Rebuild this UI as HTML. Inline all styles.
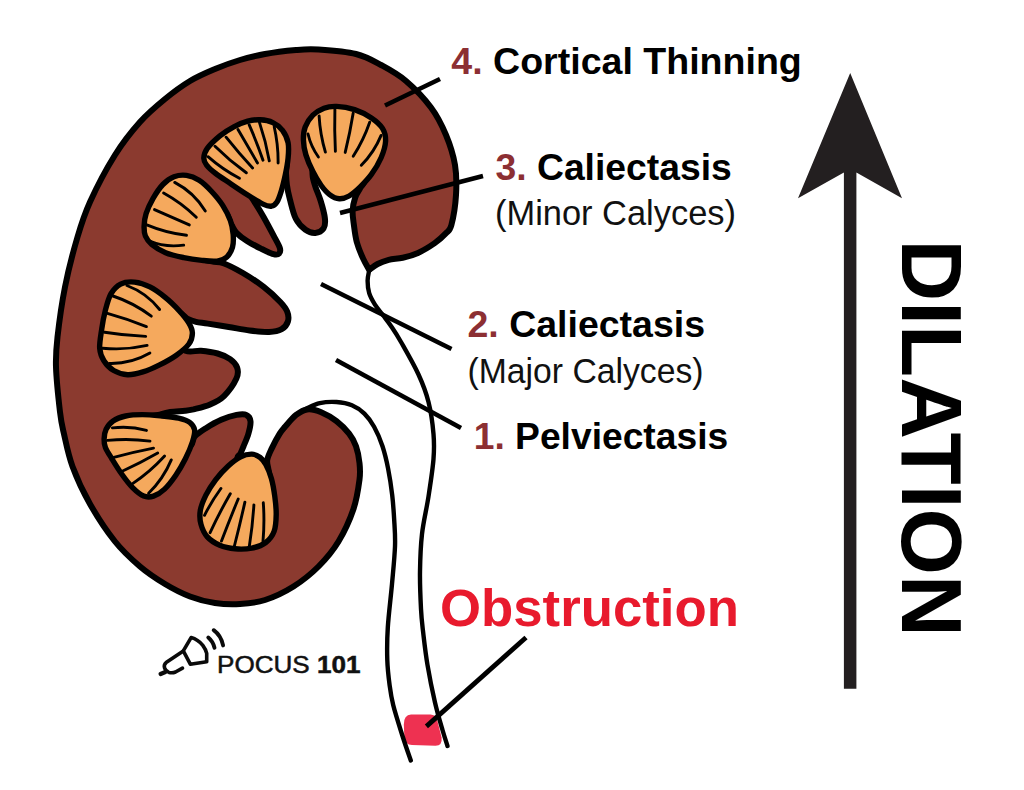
<!DOCTYPE html>
<html><head><meta charset="utf-8"><title>Hydronephrosis - Dilation</title>
<style>html,body{margin:0;padding:0;background:#fff}svg{display:block}</style></head>
<body>
<svg width="1024" height="790" viewBox="0 0 1024 790">
<rect width="1024" height="790" fill="#fff"/>
<path d="M369.2 269.8C370.6 268.8 374.4 265.7 377.6 264.0C380.9 262.3 384.5 260.9 388.7 259.8C392.9 258.8 397.8 258.8 402.7 257.7C407.6 256.6 412.7 255.3 418.0 252.9C423.3 250.5 430.1 246.3 434.7 243.1C439.3 239.8 443.0 236.4 445.8 233.4C448.6 230.4 449.7 231.4 451.4 225.0C453.1 218.6 455.4 205.0 456.0 195.0C456.6 185.0 456.7 175.0 455.0 165.0C453.3 155.0 450.0 144.6 446.0 135.0C442.0 125.4 437.7 116.5 431.0 107.5C424.3 98.5 414.3 88.1 406.0 81.0C397.7 73.9 389.3 69.5 381.0 65.0C372.7 60.5 366.4 56.6 356.0 54.0C345.6 51.4 328.5 50.2 318.5 49.5C308.5 48.8 304.9 49.2 296.0 50.0C287.1 50.8 274.3 52.3 265.0 54.0C255.7 55.7 248.3 57.5 240.0 60.0C231.7 62.5 223.3 65.5 215.0 69.0C206.7 72.5 198.3 76.0 190.0 81.0C181.7 86.0 173.3 92.2 165.0 99.0C156.7 105.8 148.3 112.7 140.0 122.0C131.7 131.3 123.3 141.7 115.0 155.0C106.7 168.3 96.2 188.3 90.0 202.0C83.8 215.7 81.7 222.8 77.5 237.0C73.3 251.2 68.3 270.3 65.0 287.0C61.7 303.7 59.0 323.7 57.5 337.0C56.0 350.3 55.6 354.5 56.0 367.0C56.4 379.5 58.7 400.8 60.0 412.0C61.3 423.2 61.9 424.9 64.0 434.0C66.1 443.1 68.2 454.8 72.5 466.5C76.8 478.2 82.9 491.5 90.0 504.0C97.1 516.5 106.7 531.1 115.0 541.5C123.3 551.9 131.7 559.4 140.0 566.5C148.3 573.6 156.7 579.0 165.0 584.0C173.3 589.0 181.7 593.3 190.0 596.5C198.3 599.7 206.7 601.8 215.0 603.0C223.3 604.2 231.7 604.5 240.0 604.0C248.3 603.5 256.1 602.9 265.0 600.0C273.9 597.1 284.6 592.1 293.5 586.5C302.4 580.9 311.0 574.0 318.5 566.5C326.0 559.0 332.7 551.1 338.5 541.5C344.3 531.9 350.0 519.3 353.5 509.0C357.0 498.7 358.5 487.4 359.5 479.7C360.5 472.0 360.1 468.6 359.5 463.0C358.9 457.4 357.7 451.2 356.0 446.3C354.3 441.4 352.4 437.9 349.1 433.7C345.9 429.5 341.1 424.8 336.5 421.2C331.9 417.6 326.1 414.2 321.2 412.2C316.3 410.2 311.5 408.9 307.3 409.4C303.1 409.8 299.8 412.0 296.1 414.9C292.4 417.8 287.7 423.7 285.0 426.8C282.3 429.9 282.0 430.0 279.7 433.7C277.4 437.4 273.5 444.7 271.4 449.1C269.3 453.5 267.7 456.6 267.2 460.2C266.7 463.8 268.2 466.9 268.6 470.5C269.0 474.1 270.9 478.8 269.5 482.0C268.1 485.2 261.6 488.7 260.0 490.0C256.3 485.3 241.2 468.1 238.0 462.0C234.8 455.9 239.8 455.8 240.7 453.2C241.6 450.6 242.2 449.6 243.5 446.3C244.8 443.1 247.2 437.9 248.4 433.7C249.6 429.5 250.8 424.3 250.5 421.2C250.2 418.1 248.6 415.9 246.3 414.9C244.0 413.8 240.7 414.1 236.5 414.9C232.3 415.7 226.3 417.6 221.2 419.8C216.1 422.0 210.3 425.4 205.9 428.2C201.5 431.0 197.4 433.5 194.7 436.5C192.0 439.5 193.6 445.4 189.5 446.0C185.4 446.6 173.2 441.0 170.0 440.0C166.3 436.5 149.7 423.2 148.0 419.0C146.3 414.8 156.3 415.8 160.0 414.6C163.7 413.4 166.0 412.6 170.2 412.0C174.4 411.4 181.1 411.2 185.0 410.8C188.9 410.4 189.2 410.4 193.4 409.4C197.6 408.3 205.0 406.7 210.1 404.5C215.2 402.3 219.6 400.4 224.0 396.1C228.4 391.8 234.2 383.4 236.4 378.6C238.6 373.8 238.2 370.6 237.1 367.4C236.0 364.1 233.3 361.4 230.1 359.1C226.8 356.8 222.5 354.9 217.6 353.5C212.7 352.1 206.2 351.2 200.9 350.7C195.6 350.2 190.8 353.1 185.6 350.7C180.4 348.2 172.6 338.4 170.0 336.0C171.4 332.3 175.6 316.9 178.5 314.0C181.4 311.1 184.4 317.5 187.3 318.8C190.2 320.1 192.6 321.0 196.0 321.8C199.4 322.6 202.5 322.7 207.9 323.6C213.3 324.5 221.8 325.9 228.7 327.0C235.6 328.1 242.9 329.7 249.6 330.5C256.3 331.3 263.8 332.1 269.1 331.9C274.5 331.7 278.6 330.8 281.7 329.1C284.8 327.4 287.0 324.4 287.9 321.5C288.8 318.6 288.5 314.9 287.2 311.7C285.9 308.4 284.2 306.1 280.3 302.0C276.4 297.9 269.9 291.7 263.7 286.9C257.5 282.1 249.6 276.9 242.9 273.0C236.2 269.1 228.6 265.1 223.4 263.2C218.2 261.3 215.9 262.5 212.0 261.4C208.1 260.3 201.2 260.7 200.0 256.5C198.8 252.3 204.2 239.4 205.0 236.0C208.2 232.2 219.7 215.5 224.0 213.5C228.3 211.5 229.0 221.0 231.1 224.2C233.2 227.4 233.8 230.0 236.5 232.8C239.2 235.6 242.9 238.4 247.0 241.0C251.1 243.6 256.6 246.4 261.0 248.6C265.4 250.8 270.5 253.4 273.5 254.2C276.5 255.0 278.1 254.6 279.1 253.5C280.2 252.4 280.7 250.9 279.8 247.9C278.9 244.9 276.2 240.5 273.5 235.4C270.8 230.3 266.7 222.6 263.7 217.3C260.7 212.0 257.4 206.6 255.4 203.4C253.5 200.2 252.6 198.9 252.0 198.0C254.7 194.2 265.3 178.8 268.0 175.0C270.9 172.5 282.5 160.3 285.5 160.0C288.5 159.7 285.8 168.8 286.0 173.0C286.2 177.2 286.3 180.7 286.9 185.0C287.5 189.3 288.3 193.4 289.8 199.0C291.3 204.6 293.2 213.6 295.8 218.7C298.4 223.8 302.2 227.4 305.5 229.8C308.8 232.2 312.3 233.1 315.3 232.9C318.3 232.7 322.0 230.8 323.6 228.4C325.2 226.0 325.4 223.0 324.9 218.4C324.4 213.8 322.3 206.2 320.7 201.0C319.1 195.8 316.8 191.0 315.5 187.0C314.2 183.0 313.3 180.3 312.8 177.0C312.3 173.7 312.4 168.7 312.3 167.0C314.4 165.5 322.9 159.5 325.0 158.0C329.2 159.2 345.8 163.8 350.0 165.0C352.5 167.2 363.4 174.0 365.0 178.0C366.6 182.0 361.4 185.6 359.8 188.8C358.2 192.1 356.4 193.8 355.2 197.5C354.0 201.2 352.8 206.2 352.6 210.8C352.4 215.4 353.2 219.8 353.9 225.0C354.6 230.2 355.2 236.1 356.7 241.7C358.2 247.3 360.9 253.7 363.0 258.4C365.1 263.1 368.2 267.9 369.2 269.8Z" fill="#8b3a2f" stroke="#000" stroke-width="6" stroke-linejoin="round"/>
<path d="M411 714.6L430.5 714.6Q435.6 714.8 437 719.5L441.6 737.5Q442.6 745.6 435.5 745.8L412 745.1Q405 744.7 404.4 737.6L403.8 724.4Q403.8 715.2 411 714.6Z" fill="#ee3151"/>
<path d="M336.5 106.4C331.4 106.2 327.9 106.7 324.0 108.2C320.1 109.7 316.0 112.1 312.9 115.2C309.8 118.3 306.8 122.9 305.2 127.0C303.6 131.1 303.3 134.9 303.4 139.6C303.5 144.2 304.3 149.6 305.9 154.9C307.5 160.2 310.3 166.5 312.9 171.6C315.4 176.7 318.4 181.7 321.2 185.5C324.0 189.3 326.6 192.4 329.6 194.6C332.6 196.8 336.1 198.6 339.3 198.8C342.6 199.0 345.6 198.0 349.1 196.0C352.6 194.0 356.5 190.5 360.2 186.9C363.9 183.3 367.9 179.3 371.4 174.4C374.9 169.5 378.7 163.3 381.1 157.7C383.5 152.1 385.4 145.9 385.6 141.0C385.8 136.1 384.9 132.2 382.5 128.4C380.1 124.6 376.0 121.1 371.4 118.0C366.8 114.9 360.4 111.5 354.6 109.6C348.8 107.7 341.6 106.6 336.5 106.4Z" fill="#f5a95d" stroke="#000" stroke-width="5.4" stroke-linejoin="round"/>
<path d="M308.0 134.0Q310.9 146.5 318.4 157.0M319.1 115.9Q320.1 134.4 325.4 152.1M334.9 108.9Q334.3 130.2 335.4 151.4M353.2 113.1Q350.0 132.9 345.2 152.4M369.7 122.2Q363.5 140.2 353.2 156.3M381.1 135.4Q374.2 152.3 361.3 165.3" fill="none" stroke="#000" stroke-width="2.9" stroke-linecap="round"/>
<path d="M203.8 158.1C203.9 155.3 204.6 152.1 207.3 148.4C210.0 144.7 215.5 139.5 219.9 135.9C224.3 132.3 229.2 129.2 233.8 126.8C238.4 124.3 243.3 122.4 247.7 121.2C252.1 120.0 256.0 119.6 260.2 119.8C264.4 120.0 269.1 120.8 272.8 122.6C276.5 124.3 279.9 126.9 282.5 130.3C285.1 133.7 287.2 138.2 288.1 142.8C289.0 147.4 288.6 152.8 288.1 158.1C287.6 163.4 286.5 169.3 285.3 174.9C284.1 180.5 282.5 187.1 281.1 191.6C279.7 196.1 278.6 199.6 277.0 202.0C275.4 204.4 273.7 205.8 271.4 206.2C269.1 206.5 266.9 206.0 263.0 204.1C259.1 202.2 253.0 198.4 247.7 195.0C242.4 191.6 236.3 187.5 231.0 183.9C225.7 180.3 219.8 176.6 215.7 173.5C211.6 170.4 208.6 167.7 206.6 165.1C204.6 162.5 203.7 160.9 203.8 158.1Z" fill="#f5a95d" stroke="#000" stroke-width="5.4" stroke-linejoin="round"/>
<path d="M208.0 156.7Q222.4 169.4 239.4 178.3M215.0 146.3Q229.6 160.8 246.3 172.8M226.1 137.2Q238.7 153.1 252.6 167.9M238.0 129.6Q247.8 146.3 257.5 163.0M249.1 124.7Q256.8 142.2 263.0 160.2M259.5 122.6Q265.9 141.4 269.3 160.9M274.2 126.8Q278.3 144.7 278.1 163.0" fill="none" stroke="#000" stroke-width="2.9" stroke-linecap="round"/>
<path d="M144.1 226.3C144.2 222.6 144.6 218.3 146.1 213.7C147.6 209.0 150.3 203.3 153.1 198.4C155.9 193.5 159.4 188.1 162.9 184.5C166.4 180.9 170.1 178.3 174.0 176.8C177.9 175.3 182.3 174.8 186.5 175.4C190.7 176.0 194.9 177.6 199.1 180.3C203.3 183.0 207.7 187.3 211.6 191.5C215.5 195.7 219.6 200.5 222.7 205.4C225.8 210.3 228.7 215.8 230.4 220.7C232.2 225.6 232.8 230.2 233.2 234.6C233.5 239.0 233.6 243.5 232.5 247.2C231.4 250.9 229.5 254.6 226.9 256.9C224.3 259.2 221.4 260.5 217.2 261.1C213.0 261.7 207.5 261.0 201.9 260.4C196.3 259.8 189.8 258.9 183.7 257.6C177.6 256.3 170.9 254.9 165.6 252.7C160.3 250.5 155.1 247.2 151.7 244.4C148.3 241.6 146.7 239.0 145.4 236.0C144.1 233.0 144.0 230.0 144.1 226.3Z" fill="#f5a95d" stroke="#000" stroke-width="5.4" stroke-linejoin="round"/>
<path d="M174.7 182.4Q194.0 192.4 205.3 211.0M163.6 192.9Q181.7 202.8 196.3 217.2M154.5 209.6Q171.9 217.2 189.3 224.9M146.8 224.9Q165.9 232.9 186.5 235.3M148.9 240.9Q165.7 247.9 183.7 245.1" fill="none" stroke="#000" stroke-width="2.9" stroke-linecap="round"/>
<path d="M99.7 348.2C99.3 342.9 100.9 335.0 101.8 328.7C102.7 322.4 103.8 316.4 105.3 310.6C106.8 304.8 108.4 298.3 110.9 293.9C113.5 289.5 116.6 286.1 120.6 284.1C124.5 282.1 129.7 281.6 134.6 282.1C139.5 282.6 144.8 284.3 149.9 286.9C155.0 289.4 160.3 293.4 165.2 297.4C170.1 301.3 175.1 306.3 179.1 310.6C183.1 314.9 186.7 319.4 188.9 323.1C191.1 326.8 192.4 329.4 192.4 332.9C192.4 336.4 191.6 340.3 188.9 344.0C186.2 347.7 181.3 351.7 176.4 355.2C171.5 358.7 165.2 362.1 159.6 364.9C154.0 367.7 148.2 370.3 142.9 371.9C137.6 373.5 132.5 374.9 127.6 374.7C122.7 374.5 117.7 372.8 113.7 370.5C109.8 368.2 106.2 364.4 103.9 360.7C101.6 357.0 100.1 353.5 99.7 348.2Z" fill="#f5a95d" stroke="#000" stroke-width="5.4" stroke-linejoin="round"/>
<path d="M126.9 285.5Q146.6 292.9 159.6 309.5M113.0 296.0Q133.8 302.9 151.3 316.2M107.4 313.4Q127.3 318.9 146.4 326.6M104.6 332.2Q125.0 335.5 145.7 336.4M102.5 348.2Q125.0 350.5 147.1 345.4M109.5 363.5Q131.2 364.0 149.9 353.1" fill="none" stroke="#000" stroke-width="2.9" stroke-linecap="round"/>
<path d="M104.1 439.0C104.2 436.0 104.6 432.2 106.1 429.2C107.6 426.2 109.8 423.1 113.1 420.9C116.3 418.7 120.7 417.1 125.6 416.0C130.5 414.9 136.3 414.6 142.4 414.6C148.5 414.6 155.9 415.4 161.9 416.0C167.9 416.6 174.0 417.1 178.6 418.1C183.2 419.2 187.0 420.3 189.7 422.3C192.4 424.3 194.1 426.6 194.6 429.9C195.1 433.1 194.0 437.0 192.5 441.8C191.0 446.6 188.3 452.9 185.5 458.5C182.7 464.1 179.3 470.1 175.8 475.2C172.3 480.3 168.3 485.6 164.6 489.1C160.9 492.6 157.0 494.9 153.5 496.1C150.0 497.3 147.2 497.5 143.7 496.1C140.2 494.7 136.3 491.4 132.6 487.7C128.9 484.0 125.0 478.7 121.5 473.8C118.0 468.9 114.4 462.9 111.7 458.5C109.0 454.1 106.7 450.6 105.4 447.4C104.1 444.1 104.0 442.0 104.1 439.0Z" fill="#f5a95d" stroke="#000" stroke-width="5.4" stroke-linejoin="round"/>
<path d="M112.4 427.9Q129.7 425.7 146.5 430.4M107.5 440.4Q128.8 438.2 150.0 441.1M113.8 457.4Q133.5 452.0 153.5 448.1M122.2 471.3Q140.3 462.8 157.7 452.9M132.6 483.6Q150.3 471.7 164.6 456.0M148.6 493.3Q163.3 478.9 171.3 459.9" fill="none" stroke="#000" stroke-width="2.9" stroke-linecap="round"/>
<path d="M251.9 454.1C248.7 454.0 244.6 454.8 240.7 456.8C236.8 458.8 232.4 462.1 228.2 465.9C224.0 469.7 219.3 474.9 215.6 479.8C211.9 484.7 208.4 490.0 205.9 495.1C203.4 500.2 201.1 505.6 200.3 510.5C199.5 515.4 199.8 520.0 201.0 524.4C202.2 528.8 204.2 533.4 207.3 536.9C210.4 540.4 215.2 543.3 219.8 545.3C224.4 547.3 229.8 548.3 235.1 548.8C240.4 549.3 246.8 549.1 251.9 548.1C257.0 547.1 262.1 545.3 265.8 542.5C269.5 539.7 272.4 536.0 274.1 531.4C275.8 526.8 276.1 520.4 276.2 514.6C276.3 508.8 275.6 502.5 274.8 496.5C274.0 490.5 272.9 483.7 271.4 478.4C269.9 473.1 267.7 468.0 265.8 464.5C263.9 461.0 262.5 459.2 260.2 457.5C257.9 455.8 255.2 454.2 251.9 454.1Z" fill="#f5a95d" stroke="#000" stroke-width="5.4" stroke-linejoin="round"/>
<path d="M220.9 488.5Q211.6 501.2 204.5 515.3M230.3 493.7Q219.3 512.7 210.1 532.7M238.2 499.0Q229.5 519.9 221.5 541.1M244.9 502.1Q240.0 524.1 234.4 546.0M253.9 504.9Q252.6 525.8 249.3 546.4M263.3 502.8Q264.7 522.0 263.0 541.1" fill="none" stroke="#000" stroke-width="2.9" stroke-linecap="round"/>
<path d="M369.2 270.3C368.9 272.0 367.6 276.9 367.6 280.7C367.6 284.5 368.0 289.2 369.2 293.2C370.4 297.1 372.5 300.7 374.8 304.4C377.1 308.1 380.4 311.8 383.2 315.5C386.0 319.2 388.5 322.3 391.5 326.7C394.5 331.1 396.5 334.0 401.0 342.0C405.5 350.0 413.9 364.5 418.5 374.5C423.1 384.5 426.0 392.1 428.5 402.0C431.0 411.9 432.7 424.5 433.5 434.0C434.3 443.5 434.3 448.6 433.5 459.0C432.7 469.4 430.4 484.0 428.5 496.5C426.6 509.0 423.4 521.5 422.0 534.0C420.6 546.5 420.2 559.0 420.0 571.5C419.8 584.0 420.5 599.1 421.0 609.0C421.5 618.9 421.9 621.7 423.0 631.0C424.1 640.3 425.5 653.1 427.5 665.0C429.5 676.9 432.5 691.7 435.0 702.5C437.5 713.3 440.4 722.8 442.5 730.0C444.6 737.2 446.7 743.3 447.5 746.0" fill="none" stroke="#000" stroke-width="4.4" stroke-linecap="round"/>
<path d="M305.9 408.7C308.2 407.8 314.7 404.2 319.8 403.1C324.9 402.0 331.1 401.6 336.5 402.0C341.9 402.4 347.2 403.3 351.9 405.2C356.5 407.1 360.7 410.0 364.4 413.6C368.1 417.2 371.1 421.4 374.1 426.8C377.1 432.2 380.2 439.3 382.5 446.3C384.8 453.3 386.5 460.5 388.1 468.6C389.7 476.7 391.2 486.4 392.2 495.0C393.2 503.6 393.7 511.4 394.2 520.0C394.7 528.6 395.4 535.8 395.0 546.5C394.6 557.2 393.2 570.5 392.0 584.0C390.8 597.5 388.6 614.8 387.8 627.5C387.0 640.2 387.0 650.4 387.3 660.0C387.6 669.6 388.6 677.5 389.6 685.0C390.6 692.5 391.1 696.5 393.2 705.0C395.3 713.5 399.6 726.8 402.5 736.0C405.4 745.2 409.4 756.4 410.8 760.5" fill="none" stroke="#000" stroke-width="4.4" stroke-linecap="round"/>
<g stroke="#000" stroke-width="4.5" stroke-linecap="butt" fill="none"><path d="M385 105.5L440 79"/><path d="M340 213L483 176"/><path d="M321 284L451.5 349"/><path d="M336 360L461 428"/><path d="M426.4 726.4L526 637.5" stroke-width="4.8"/></g>
<path d="M850.2 73L902 198.3L856.4 172.5L856.4 688.7L843.9 688.7L843.9 172.5L798 198.3Z" fill="#231f20"/>
<text x="451.3" y="73.8" font-family="Liberation Sans, Arial, Helvetica, sans-serif" font-size="37" font-weight="700" textLength="350.5" lengthAdjust="spacingAndGlyphs"><tspan fill="#8c2f33">4.</tspan><tspan fill="#000"> Cortical Thinning</tspan></text>
<text x="495.5" y="179.7" font-family="Liberation Sans, Arial, Helvetica, sans-serif" font-size="37" font-weight="700" textLength="236.3" lengthAdjust="spacingAndGlyphs"><tspan fill="#8c2f33">3.</tspan><tspan fill="#000"> Caliectasis</tspan></text>
<text x="467.5" y="337" font-family="Liberation Sans, Arial, Helvetica, sans-serif" font-size="37" font-weight="700" textLength="237.5" lengthAdjust="spacingAndGlyphs"><tspan fill="#8c2f33">2.</tspan><tspan fill="#000"> Caliectasis</tspan></text>
<text x="473.7" y="449.2" font-family="Liberation Sans, Arial, Helvetica, sans-serif" font-size="37" font-weight="700" textLength="254.5" lengthAdjust="spacingAndGlyphs"><tspan fill="#8c2f33">1.</tspan><tspan fill="#000"> Pelviectasis</tspan></text>
<text x="495" y="225" font-family="Liberation Sans, Arial, Helvetica, sans-serif" font-size="35.5" fill="#111" textLength="241" lengthAdjust="spacingAndGlyphs">(Minor Calyces)</text>
<text x="467.5" y="383" font-family="Liberation Sans, Arial, Helvetica, sans-serif" font-size="35.5" fill="#111" textLength="236" lengthAdjust="spacingAndGlyphs">(Major Calyces)</text>
<text x="440" y="626.2" font-family="Liberation Sans, Arial, Helvetica, sans-serif" font-size="51" font-weight="700" fill="#e81a2d" textLength="299" lengthAdjust="spacingAndGlyphs">Obstruction</text>
<text transform="translate(902 239.6) rotate(90)" font-family="Liberation Sans, Arial, Helvetica, sans-serif" font-size="84.5" font-weight="700" fill="#000" textLength="397" lengthAdjust="spacingAndGlyphs">DILATION</text>
<text x="217" y="672.9" font-family="Liberation Sans, Arial, Helvetica, sans-serif" font-size="24" fill="#111" stroke="#111" stroke-width="0.5" textLength="143.5" lengthAdjust="spacingAndGlyphs">POCUS <tspan font-weight="700">101</tspan></text>
<g fill="none" stroke="#0a0a0a" stroke-width="3.6" stroke-linecap="round" stroke-linejoin="round"><path d="M183.3 650.9L191.1 637.6Q198 639.5 202.8 645.4Q205.8 649.5 206.7 653.3L206.7 661.8L190.3 664.2Z"/><path d="M183.3 650.9L166.1 662.6Q163.6 664.8 164.5 667.8Q165.6 671.2 169 672.4Q172.5 673.2 175.5 672L182.5 668.1"/><path d="M165.3 672L160.6 674" stroke-width="4.2"/><path d="M208.3 637.6Q213 641.5 214.5 647.8" stroke-width="3.9"/><path d="M213.7 630.2Q221 635.5 223.1 645.4" stroke-width="3.9"/></g>
</svg>
</body></html>
